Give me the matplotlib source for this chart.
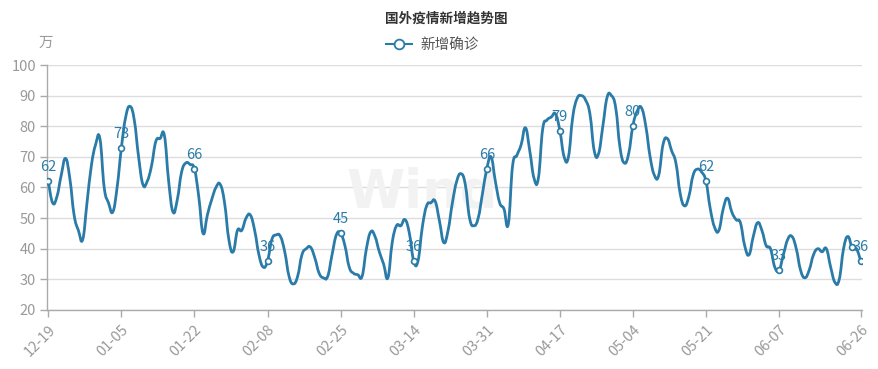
import matplotlib.pyplot as plt
import numpy as np
from matplotlib.path import Path
from matplotlib.patches import PathPatch

plt.rcParams['font.family'] = ['Noto Sans CJK SC', 'DejaVu Sans']

# daily new confirmed cases outside China (unit: 10k), 12-19 .. 06-26
values = [
    62, 55, 57, 64, 69.5, 63, 51, 46, 43, 55,
    67, 74, 76, 60, 55, 52, 60, 73, 83, 86.5,
    82, 70, 61, 62, 67, 75, 76, 77, 62, 52,
    56, 65, 68, 67.5, 66, 57, 45, 51, 56, 60,
    61, 55, 43, 39, 46, 46, 50, 51, 46, 38,
    34, 36, 43, 44.5, 44, 39, 31, 28.5, 31, 38,
    40, 40.5, 37, 32, 30.5, 31, 38, 44.5, 45, 41,
    34, 32, 31.5, 31, 40, 45.5, 44, 39, 35, 30.5,
    42, 47.5, 47.5, 49.5, 45, 36, 36, 47, 54, 55,
    55.5, 49, 42, 46, 55, 62, 64.5, 61, 50, 47.5,
    50, 58, 66, 70, 62, 55, 53, 48, 67, 70.5,
    74, 79.5, 72, 63, 63, 79, 82, 83, 84, 78.6,
    70, 70, 83, 89, 90, 88.5, 84, 72, 71, 80,
    89.5, 90, 86, 73, 68, 71, 80.2, 85, 86, 80,
    70, 64, 64, 74, 76, 72, 68, 58, 54, 57,
    64, 66, 65, 62, 53, 47, 46, 53, 56.5, 52,
    49.5, 48.5, 41, 38, 44, 48.5, 46, 41, 40, 34,
    33, 38, 43, 44, 40, 33, 30.5, 33, 38, 40,
    39, 40, 34, 29, 30, 40, 44, 40.4, 40, 36,
]
dates = np.arange('2020-12-19', '2021-06-27', dtype='datetime64[D]')
date_labels = [str(d)[5:] for d in dates]

# points that carry a marker (every 17 days + last), and those that get a value label
marker_idx = list(range(0, len(values), 17)) + [len(values) - 1]
label_idx = [i for i in marker_idx if i != 187]
tick_idx = list(range(0, 171, 17)) + [len(values) - 1]

color = '#2a7ba8'
grey = '#999999'

fig = plt.figure(figsize=(8.79, 3.69), dpi=100)
ax = fig.add_axes([0.0535, 0.16, 0.9272, 0.6638])

x = np.arange(len(values), dtype=float)
y = np.array(values, dtype=float)

# smoothed line (bezier through every data point, like echarts smooth)
pts = np.column_stack([x, y])
verts, codes = [pts[0]], [Path.MOVETO]
k = 0.22
for i in range(len(pts) - 1):
    p0 = pts[max(i - 1, 0)]
    p1, p2 = pts[i], pts[i + 1]
    p3 = pts[min(i + 2, len(pts) - 1)]
    verts += [p1 + (p2 - p0) * k, p2 - (p3 - p1) * k, p2]
    codes += [Path.CURVE4] * 3
ax.add_patch(PathPatch(Path(verts, codes), facecolor='none', edgecolor=color,
                       linewidth=2.0, zorder=3, capstyle='round', joinstyle='round'))

ax.plot(x[marker_idx], y[marker_idx], 'o', color=color,
        markerfacecolor='white', markersize=4.2, markeredgewidth=1.2, zorder=4)
for i in label_idx:
    ax.annotate(f'{values[i]:.0f}', (x[i], values[i]), xytext=(0, 5),
                textcoords='offset points', ha='center', va='bottom',
                color=color, fontsize=10.5, zorder=5)

# watermark
ax.text(0.46, 0.48, 'Wind', transform=ax.transAxes, ha='center', va='center',
        fontsize=38, fontweight='bold', color='#f2f2f2', zorder=1, family='DejaVu Sans')

ax.set_xlim(-0.3, len(values) - 1 + 0.3)
ax.set_ylim(20, 100)
ax.set_yticks(range(20, 101, 10))
ax.set_xticks(tick_idx)
ax.set_xticklabels([date_labels[i] for i in tick_idx], rotation=45, ha='right',
                   rotation_mode='anchor')
ax.grid(axis='y', color='#dddddd', linewidth=1, zorder=0)
ax.set_axisbelow(True)
for s in ['top', 'right']:
    ax.spines[s].set_visible(False)
for s in ['left', 'bottom']:
    ax.spines[s].set_color('#aaaaaa')
    ax.spines[s].set_linewidth(1)
ax.tick_params(colors='#aaaaaa', labelcolor=grey, labelsize=10.5, length=5, width=1)
ax.tick_params(axis='y', pad=3)
ax.tick_params(axis='x', pad=4)

fig.text(0.508, 0.951, '国外疫情新增趋势图', ha='center', va='center',
         fontsize=9.8, fontweight='bold', color='#333333')
fig.text(0.052, 0.885, '万', ha='center', va='center', fontsize=10.5, color=grey)

# legend
h, = ax.plot([], [], '-o', color=color, markerfacecolor='white', markersize=7,
             markeredgewidth=1.3, linewidth=1.5)
fig.legend([h], ['新增确诊'], loc='center', bbox_to_anchor=(0.492, 0.878),
           frameon=False, fontsize=10.5, labelcolor='#555555',
           handlelength=1.8, handletextpad=0.6)

fig.savefig('out.png', dpi=100)
